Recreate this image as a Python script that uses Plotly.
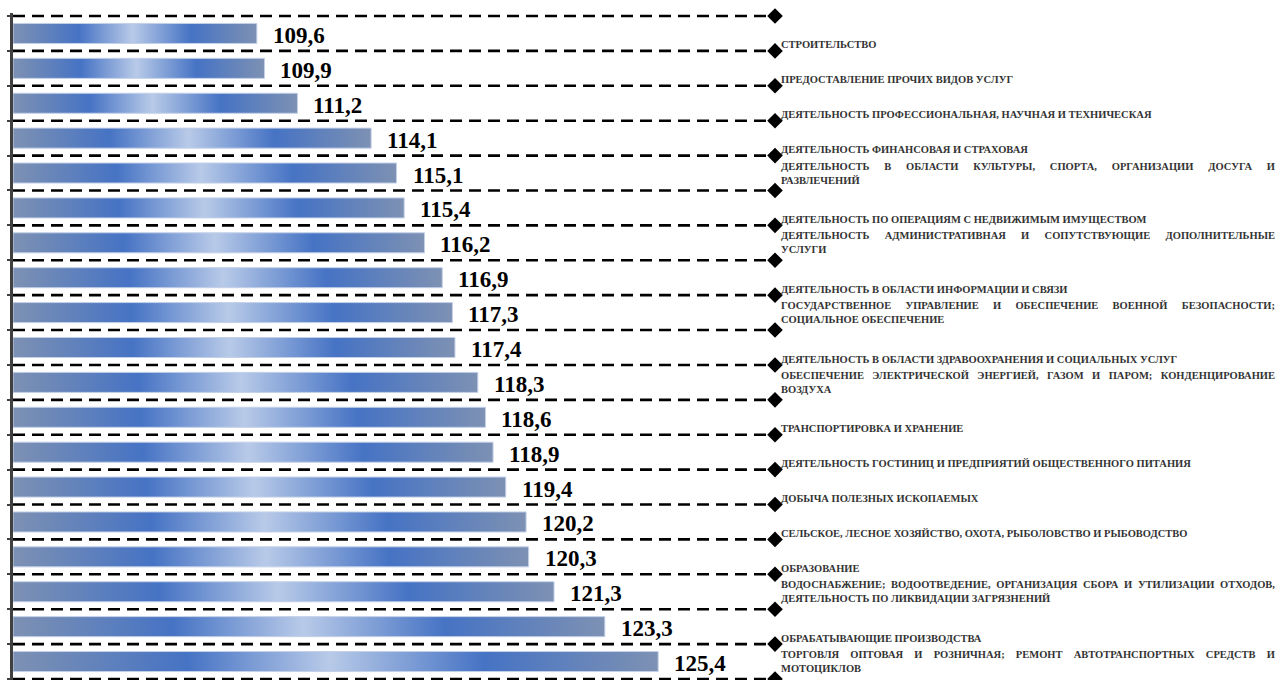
import plotly.graph_objects as go

categories = [
    "СТРОИТЕЛЬСТВО",
    "ПРЕДОСТАВЛЕНИЕ ПРОЧИХ ВИДОВ УСЛУГ",
    "ДЕЯТЕЛЬНОСТЬ ПРОФЕССИОНАЛЬНАЯ, НАУЧНАЯ И ТЕХНИЧЕСКАЯ",
    "ДЕЯТЕЛЬНОСТЬ ФИНАНСОВАЯ И СТРАХОВАЯ",
    "ДЕЯТЕЛЬНОСТЬ В ОБЛАСТИ КУЛЬТУРЫ, СПОРТА, ОРГАНИЗАЦИИ ДОСУГА И<br>РАЗВЛЕЧЕНИЙ",
    "ДЕЯТЕЛЬНОСТЬ ПО ОПЕРАЦИЯМ С НЕДВИЖИМЫМ ИМУЩЕСТВОМ",
    "ДЕЯТЕЛЬНОСТЬ АДМИНИСТРАТИВНАЯ И СОПУТСТВУЮЩИЕ ДОПОЛНИТЕЛЬНЫЕ<br>УСЛУГИ",
    "ДЕЯТЕЛЬНОСТЬ В ОБЛАСТИ ИНФОРМАЦИИ И СВЯЗИ",
    "ГОСУДАРСТВЕННОЕ УПРАВЛЕНИЕ И ОБЕСПЕЧЕНИЕ ВОЕННОЙ БЕЗОПАСНОСТИ;<br>СОЦИАЛЬНОЕ ОБЕСПЕЧЕНИЕ",
    "ДЕЯТЕЛЬНОСТЬ В ОБЛАСТИ ЗДРАВООХРАНЕНИЯ И СОЦИАЛЬНЫХ УСЛУГ",
    "ОБЕСПЕЧЕНИЕ ЭЛЕКТРИЧЕСКОЙ ЭНЕРГИЕЙ, ГАЗОМ И ПАРОМ; КОНДЕНЦИРОВАНИЕ<br>ВОЗДУХА",
    "ТРАНСПОРТИРОВКА И ХРАНЕНИЕ",
    "ДЕЯТЕЛЬНОСТЬ ГОСТИНИЦ И ПРЕДПРИЯТИЙ ОБЩЕСТВЕННОГО ПИТАНИЯ",
    "ДОБЫЧА ПОЛЕЗНЫХ ИСКОПАЕМЫХ",
    "СЕЛЬСКОЕ, ЛЕСНОЕ ХОЗЯЙСТВО, ОХОТА, РЫБОЛОВСТВО И РЫБОВОДСТВО",
    "ОБРАЗОВАНИЕ",
    "ВОДОСНАБЖЕНИЕ; ВОДООТВЕДЕНИЕ, ОРГАНИЗАЦИЯ СБОРА И УТИЛИЗАЦИИ ОТХОДОВ,<br>ДЕЯТЕЛЬНОСТЬ ПО ЛИКВИДАЦИИ ЗАГРЯЗНЕНИЙ",
    "ОБРАБАТЫВАЮЩИЕ ПРОИЗВОДСТВА",
    "ТОРГОВЛЯ ОПТОВАЯ И РОЗНИЧНАЯ; РЕМОНТ АВТОТРАНСПОРТНЫХ СРЕДСТВ И<br>МОТОЦИКЛОВ",
]
values = [109.6, 109.9, 111.2, 114.1, 115.1, 115.4, 116.2, 116.9, 117.3, 117.4,
          118.3, 118.6, 118.9, 119.4, 120.2, 120.3, 121.3, 123.3, 125.4]
value_labels = ["109,6", "109,9", "111,2", "114,1", "115,1", "115,4", "116,2", "116,9",
                "117,3", "117,4", "118,3", "118,6", "118,9", "119,4", "120,2", "120,3",
                "121,3", "123,3", "125,4"]

X_MIN, X_MAX = 100, 130
n = len(values)
HALF = 0.287
SERIF = "Liberation Serif, Times New Roman, serif"

grad = [[0, "#7d91b3"], [0.27, "#4673c4"], [0.49, "#b8cae8"], [0.73, "#4673c4"], [1, "#7d91b3"]]

fig = go.Figure()

# dashed separators
gx, gy = [], []
for k in range(n + 1):
    b = k - 0.5
    gx += [X_MIN, X_MAX, None]
    gy += [b, b, None]
fig.add_trace(go.Scatter(x=gx, y=gy, mode="lines", cliponaxis=False,
                         line=dict(color="black", width=2.6, dash="12px,7px"),
                         hoverinfo="skip", showlegend=False))

# bars with gradient
for i, v in enumerate(values):
    fig.add_trace(go.Scatter(
        x=[X_MIN, v, v, X_MIN, X_MIN],
        y=[i - HALF, i - HALF, i + HALF, i + HALF, i - HALF],
        mode="lines", fill="toself",
        fillgradient=dict(type="horizontal", colorscale=grad, start=X_MIN, stop=v),
        line=dict(color="#c3d0e8", width=1),
        hoverinfo="skip", showlegend=False))

# diamonds at the end of separators
fig.add_trace(go.Scatter(x=[X_MAX] * (n + 1), y=[k - 0.5 for k in range(n + 1)],
                         mode="markers", cliponaxis=False,
                         marker=dict(symbol="diamond", size=12, color="black"),
                         hoverinfo="skip", showlegend=False))

annotations = []
for i, (v, t) in enumerate(zip(values, value_labels)):
    annotations.append(dict(x=v, y=i, text="<b>" + t + "</b>", showarrow=False,
                            xanchor="left", yanchor="middle", xshift=14, yshift=-2,
                            font=dict(family=SERIF, size=23, color="black")))
for i, c in enumerate(categories):
    two = "<br>" in c
    annotations.append(dict(x=X_MAX, y=i if two else i + 0.33,
                            text="<b>" + c.replace("<br>", "</b><br><b>") + "</b>",
                            showarrow=False, xanchor="left", yanchor="middle", align="left", xshift=4,
                            font=dict(family=SERIF, size=10.5, color="#333333")))

fig.update_layout(
    width=1279, height=680,
    margin=dict(l=13, r=504, t=13, b=0),
    paper_bgcolor="white", plot_bgcolor="white",
    showlegend=False,
    annotations=annotations,
    xaxis=dict(range=[X_MIN, X_MAX], visible=False, showgrid=False, zeroline=False),
    yaxis=dict(range=[n - 0.5 + 0.029, -0.586], showgrid=False, zeroline=False,
               showline=True, linecolor="#404040", linewidth=3,
               tickmode="array", tickvals=[k - 0.5 for k in range(n + 1)],
               ticks="outside", ticklen=3, tickwidth=2, tickcolor="#404040",
               showticklabels=False),
)

post = """
document.body.style.margin='0';
var gd=document.getElementById('{plot_id}');
var ts=gd.querySelectorAll('g.annotation text');
ts.forEach(function(t){
  var ls=t.querySelectorAll('tspan.line');
  if(ls.length<2) return;
  var f=ls[0];
  var m=(f.textContent.match(/ /g)||[]).length;
  if(!m) return;
  var w=f.getComputedTextLength();
  f.style.wordSpacing=((494-w)/m)+'px';
});
"""
fig.write_html("out.html", post_script=post, config={"displayModeBar": False})
